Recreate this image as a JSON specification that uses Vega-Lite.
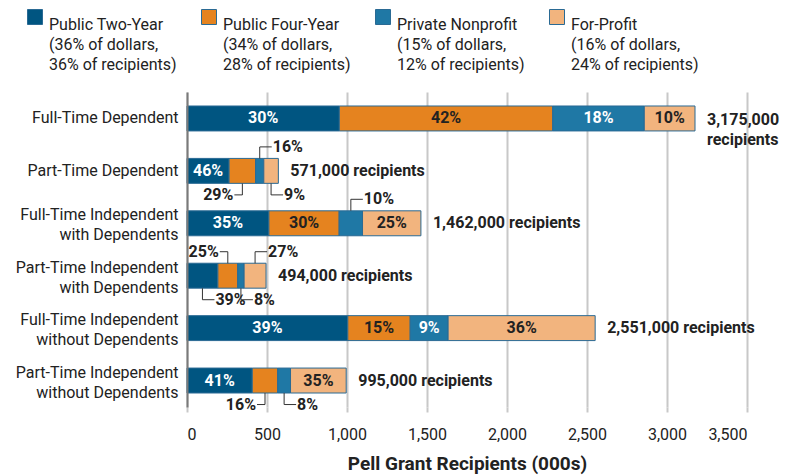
{
  "$schema": "https://vega.github.io/schema/vega-lite/v6.json",
  "width": 560,
  "height": 315,
  "autosize": {"type": "none"},
  "padding": {"left": 187, "top": 92, "right": 39, "bottom": 69},
  "background": "white",
  "config": {
    "font": "Roboto",
    "view": {"stroke": null},
    "style": {"guide-label": {"lineHeight": 20}}
  },
  "datasets": {
    "segs": [
      {"cat": "Full-Time Dependent", "sector": "Public Two-Year", "value": 952, "label": "30%", "place": "in", "dir": ""},
      {"cat": "Full-Time Dependent", "sector": "Public Four-Year", "value": 1334, "label": "42%", "place": "in", "dir": ""},
      {"cat": "Full-Time Dependent", "sector": "Private Nonprofit", "value": 572, "label": "18%", "place": "in", "dir": ""},
      {"cat": "Full-Time Dependent", "sector": "For-Profit", "value": 317, "label": "10%", "place": "in", "dir": ""},
      {"cat": "Part-Time Dependent", "sector": "Public Two-Year", "value": 263, "label": "46%", "place": "in", "dir": ""},
      {"cat": "Part-Time Dependent", "sector": "Public Four-Year", "value": 166, "label": "29%", "place": "below", "dir": "l"},
      {"cat": "Part-Time Dependent", "sector": "Private Nonprofit", "value": 51, "label": "16%", "place": "above", "dir": "r"},
      {"cat": "Part-Time Dependent", "sector": "For-Profit", "value": 91, "label": "9%", "place": "below", "dir": "r"},
      {"cat": "Full-Time Independent|with Dependents", "sector": "Public Two-Year", "value": 512, "label": "35%", "place": "in", "dir": ""},
      {"cat": "Full-Time Independent|with Dependents", "sector": "Public Four-Year", "value": 439, "label": "30%", "place": "in", "dir": ""},
      {"cat": "Full-Time Independent|with Dependents", "sector": "Private Nonprofit", "value": 146, "label": "10%", "place": "above", "dir": "r"},
      {"cat": "Full-Time Independent|with Dependents", "sector": "For-Profit", "value": 365, "label": "25%", "place": "in", "dir": ""},
      {"cat": "Part-Time Independent|with Dependents", "sector": "Public Two-Year", "value": 193, "label": "39%", "place": "below", "dir": "r"},
      {"cat": "Part-Time Independent|with Dependents", "sector": "Public Four-Year", "value": 124, "label": "25%", "place": "above", "dir": "l"},
      {"cat": "Part-Time Independent|with Dependents", "sector": "Private Nonprofit", "value": 40, "label": "8%", "place": "below", "dir": "r"},
      {"cat": "Part-Time Independent|with Dependents", "sector": "For-Profit", "value": 137, "label": "27%", "place": "above", "dir": "r"},
      {"cat": "Full-Time Independent|without Dependents", "sector": "Public Two-Year", "value": 1005, "label": "39%", "place": "in", "dir": ""},
      {"cat": "Full-Time Independent|without Dependents", "sector": "Public Four-Year", "value": 390, "label": "15%", "place": "in", "dir": ""},
      {"cat": "Full-Time Independent|without Dependents", "sector": "Private Nonprofit", "value": 237, "label": "9%", "place": "in", "dir": ""},
      {"cat": "Full-Time Independent|without Dependents", "sector": "For-Profit", "value": 919, "label": "36%", "place": "in", "dir": ""},
      {"cat": "Part-Time Independent|without Dependents", "sector": "Public Two-Year", "value": 408, "label": "41%", "place": "in", "dir": ""},
      {"cat": "Part-Time Independent|without Dependents", "sector": "Public Four-Year", "value": 159, "label": "16%", "place": "below", "dir": "l"},
      {"cat": "Part-Time Independent|without Dependents", "sector": "Private Nonprofit", "value": 80, "label": "8%", "place": "below", "dir": "r"},
      {"cat": "Part-Time Independent|without Dependents", "sector": "For-Profit", "value": 348, "label": "35%", "place": "in", "dir": ""}
    ],
    "totals": [
      {"cat": "Full-Time Dependent", "total": 3175, "label": "3,175,000|recipients"},
      {"cat": "Part-Time Dependent", "total": 571, "label": "571,000 recipients"},
      {"cat": "Full-Time Independent|with Dependents", "total": 1462, "label": "1,462,000 recipients"},
      {"cat": "Part-Time Independent|with Dependents", "total": 494, "label": "494,000 recipients"},
      {"cat": "Full-Time Independent|without Dependents", "total": 2551, "label": "2,551,000 recipients"},
      {"cat": "Part-Time Independent|without Dependents", "total": 995, "label": "995,000 recipients"}
    ]
  },
  "encoding": {
    "y": {
      "field": "cat",
      "type": "nominal",
      "sort": null,
      "scale": {"paddingInner": 0.524, "paddingOuter": 0.267},
      "axis": {
        "title": null,
        "labelExpr": "split(datum.value, '|')",
        "labelFontSize": 16,
        "labelLineHeight": 20,
        "labelColor": "#222222",
        "labelPadding": 9,
        "labelOffset": {"condition": {"test": "indexof(datum.value, '|') >= 0", "value": -8}, "value": 0},
        "ticks": false,
        "domain": true,
        "domainColor": "#7a7a7a",
        "domainWidth": 2,
        "zindex": 1
      }
    }
  },
  "layer": [
    {
      "data": {"name": "segs"},
      "transform": [
        {"stack": "value", "groupby": ["cat"], "sort": [{"field": "sector", "order": "descending"}], "as": ["x0", "x1"]},
        {"calculate": "(datum.x0 + datum.x1) / 2", "as": "mid"}
      ],
      "layer": [
        {
          "mark": {"type": "bar", "stroke": "#2a6a94", "strokeWidth": 1},
          "encoding": {
            "x": {
              "field": "x0",
              "type": "quantitative",
              "scale": {"domain": [0, 3500], "nice": false},
              "axis": {
                "values": [0, 500, 1000, 1500, 2000, 2500, 3000, 3500],
                "format": ",.0f",
                "title": "Pell Grant Recipients (000s)",
                "titleFontSize": 19,
                "titleFontWeight": "bold",
                "titleColor": "#222222",
                "titlePadding": 12,
                "labelFontSize": 16,
                "labelColor": "#222222",
                "labelPadding": 14,
                "grid": true,
                "gridColor": "#c8c8c8",
                "gridWidth": 2,
                "domain": false,
                "ticks": true,
                "tickColor": "#c8c8c8",
                "tickWidth": 2,
                "tickSize": 5
              }
            },
            "x2": {"field": "x1"},
            "color": {
              "field": "sector",
              "type": "nominal",
              "scale": {
                "domain": ["Public Two-Year", "Public Four-Year", "Private Nonprofit", "For-Profit"],
                "range": ["#005581", "#e5831f", "#1f78a5", "#f2b47e"]
              },
              "legend": {
                "orient": "none",
                "legendX": -160,
                "legendY": -83,
                "direction": "horizontal",
                "columns": 4,
                "title": null,
                "padding": 0,
                "symbolType": "square",
                "symbolSize": 225,
                "symbolStrokeColor": "#2a6a94",
                "symbolStrokeWidth": 1,
                "labelFontSize": 16,
                "labelColor": "#222222",
                "labelOffset": 6,
                "labelLimit": 300,
                "labelBaseline": "top",
                "columnPadding": 22,
                "gridAlign": "all",
                "labelExpr": "datum.label == 'Public Two-Year' ? ['Public Two-Year', '(36% of dollars,', '36% of recipients)'] : datum.label == 'Public Four-Year' ? ['Public Four-Year', '(34% of dollars,', '28% of recipients)'] : datum.label == 'Private Nonprofit' ? ['Private Nonprofit', '(15% of dollars,', '12% of recipients)'] : ['For-Profit', '(16% of dollars,', '24% of recipients)']"
              }
            }
          }
        },
        {
          "transform": [{"filter": "datum.place == 'in'"}],
          "mark": {"type": "text", "fontSize": 16, "fontWeight": "bold", "baseline": "middle", "align": "center"},
          "encoding": {
            "x": {"field": "mid", "type": "quantitative"},
            "text": {"field": "label"},
            "color": {"condition": {"test": "datum.sector == 'Public Two-Year' || datum.sector == 'Private Nonprofit'", "value": "white"}, "value": "#222222"}
          }
        },
        {
          "transform": [{"filter": "datum.place == 'above'"}],
          "mark": {"type": "tick", "orient": "vertical", "size": 11.5, "thickness": 1, "yOffset": -18.25, "color": "#333333", "opacity": 1},
          "encoding": {"x": {"field": "mid", "type": "quantitative"}}
        },
        {
          "transform": [{"filter": "datum.place == 'below'"}],
          "mark": {"type": "tick", "orient": "vertical", "size": 11.5, "thickness": 1, "yOffset": 18.25, "color": "#333333", "opacity": 1},
          "encoding": {"x": {"field": "mid", "type": "quantitative"}}
        },
        {
          "transform": [{"filter": "datum.place == 'above' && datum.dir == 'r'"}],
          "mark": {"type": "tick", "orient": "horizontal", "size": 12, "thickness": 1, "xOffset": 6, "yOffset": -24, "color": "#333333", "opacity": 1},
          "encoding": {"x": {"field": "mid", "type": "quantitative"}}
        },
        {
          "transform": [{"filter": "datum.place == 'above' && datum.dir == 'l'"}],
          "mark": {"type": "tick", "orient": "horizontal", "size": 8, "thickness": 1, "xOffset": -4, "yOffset": -24, "color": "#333333", "opacity": 1},
          "encoding": {"x": {"field": "mid", "type": "quantitative"}}
        },
        {
          "transform": [{"filter": "datum.place == 'below' && datum.dir == 'r'"}],
          "mark": {"type": "tick", "orient": "horizontal", "size": 12, "thickness": 1, "xOffset": 6, "yOffset": 24, "color": "#333333", "opacity": 1},
          "encoding": {"x": {"field": "mid", "type": "quantitative"}}
        },
        {
          "transform": [{"filter": "datum.place == 'below' && datum.dir == 'l'"}],
          "mark": {"type": "tick", "orient": "horizontal", "size": 8, "thickness": 1, "xOffset": -4, "yOffset": 24, "color": "#333333", "opacity": 1},
          "encoding": {"x": {"field": "mid", "type": "quantitative"}}
        },
        {
          "transform": [{"filter": "datum.place == 'above' && datum.dir == 'r'"}],
          "mark": {"type": "text", "fontSize": 16, "fontWeight": "bold", "align": "left", "baseline": "middle", "dx": 13, "dy": -24, "color": "#222222"},
          "encoding": {"x": {"field": "mid", "type": "quantitative"}, "text": {"field": "label"}}
        },
        {
          "transform": [{"filter": "datum.place == 'above' && datum.dir == 'l'"}],
          "mark": {"type": "text", "fontSize": 16, "fontWeight": "bold", "align": "right", "baseline": "middle", "dx": -9, "dy": -24, "color": "#222222"},
          "encoding": {"x": {"field": "mid", "type": "quantitative"}, "text": {"field": "label"}}
        },
        {
          "transform": [{"filter": "datum.place == 'below' && datum.dir == 'r'"}],
          "mark": {"type": "text", "fontSize": 16, "fontWeight": "bold", "align": "left", "baseline": "middle", "dx": 13, "dy": 24, "color": "#222222"},
          "encoding": {"x": {"field": "mid", "type": "quantitative"}, "text": {"field": "label"}}
        },
        {
          "transform": [{"filter": "datum.place == 'below' && datum.dir == 'l'"}],
          "mark": {"type": "text", "fontSize": 16, "fontWeight": "bold", "align": "right", "baseline": "middle", "dx": -9, "dy": 24, "color": "#222222"},
          "encoding": {"x": {"field": "mid", "type": "quantitative"}, "text": {"field": "label"}}
        }
      ]
    },
    {
      "data": {"name": "totals"},
      "transform": [{"filter": "indexof(datum.label, '|') < 0"}],
      "mark": {"type": "text", "fontSize": 16, "fontWeight": "bold", "align": "left", "baseline": "middle", "dx": 12, "color": "#222222"},
      "encoding": {"x": {"field": "total", "type": "quantitative"}, "text": {"field": "label"}}
    },
    {
      "data": {"name": "totals"},
      "transform": [{"filter": "indexof(datum.label, '|') >= 0"}],
      "mark": {"type": "text", "fontSize": 16, "fontWeight": "bold", "align": "left", "baseline": "middle", "dx": 12, "dy": 2, "lineBreak": "|", "lineHeight": 20, "color": "#222222"},
      "encoding": {"x": {"field": "total", "type": "quantitative"}, "text": {"field": "label"}}
    }
  ]
}
